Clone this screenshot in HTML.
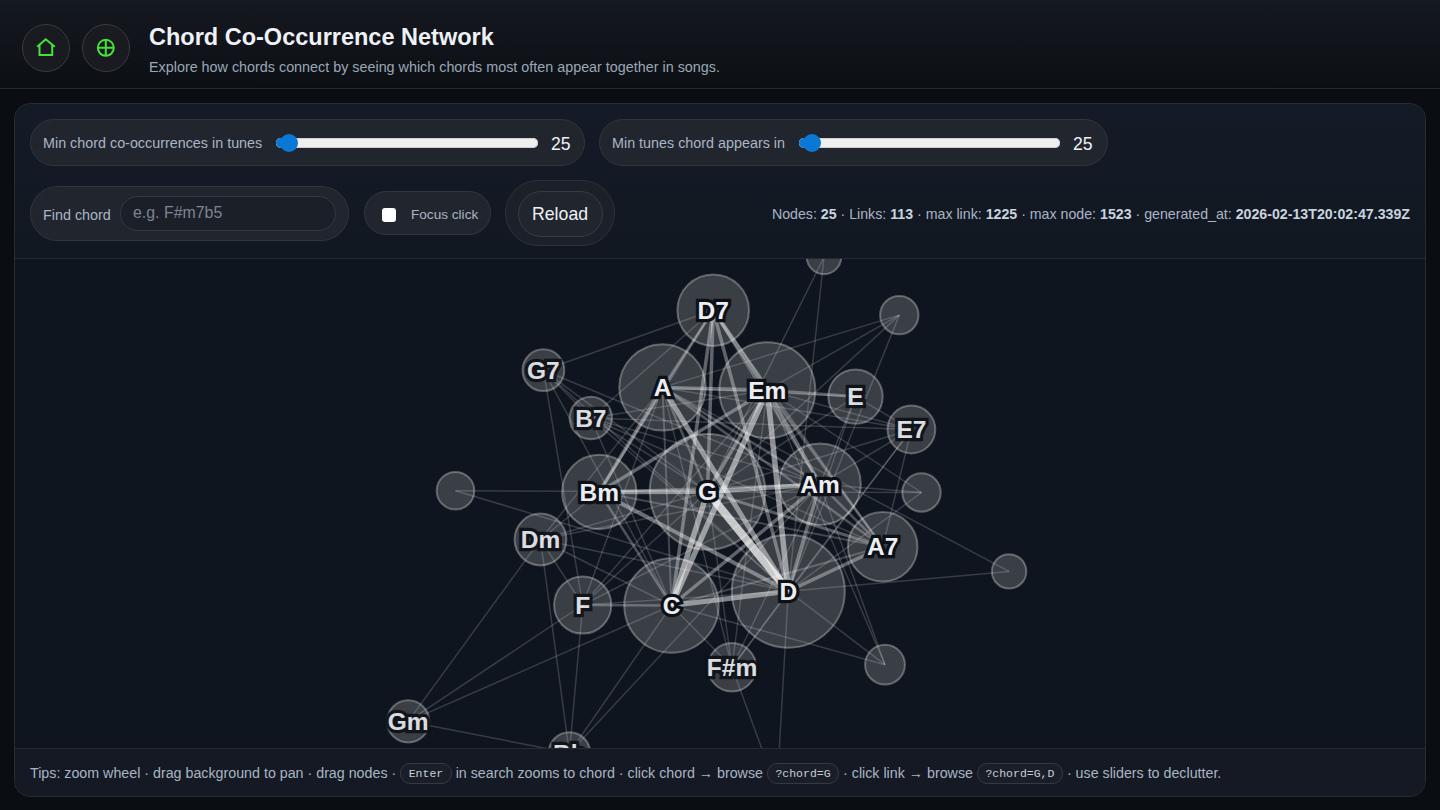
<!DOCTYPE html>
<html><head><meta charset="utf-8">
<style>
*{box-sizing:border-box;margin:0;padding:0}
html,body{width:1440px;height:810px;overflow:hidden;background:#0a0d12;font-family:"Liberation Sans",sans-serif}
.hdr{position:absolute;left:0;top:0;width:1440px;height:89px;background:linear-gradient(#151920,#0c0f14);border-bottom:1px solid #23272e}
.ib{position:absolute;top:24px;width:48px;height:48px;border-radius:50%;background:#191b21;border:1px solid #383b41}
.ib svg{position:absolute;left:-1px;top:-1px}
.title{position:absolute;left:149px;top:24px;font-size:23.5px;font-weight:bold;color:#eef1f6;white-space:nowrap}
.sub{position:absolute;left:149px;top:59px;font-size:14.35px;color:#9ba7b6;white-space:nowrap}
.panel{position:absolute;left:14px;top:103px;width:1412px;height:694px;border:1px solid #272c35;border-radius:16px;background:#131822;overflow:hidden}
.ctrl{position:absolute;left:0;top:0;width:1410px;height:154px;background:linear-gradient(#151b26,#121822)}
.graph{position:absolute;left:0;top:154px;width:1410px;height:491px;background:#0f151e;border-top:1px solid #262b33;border-bottom:1px solid #262b33;overflow:hidden}
.foot{position:absolute;left:0;top:645px;width:1410px;height:47px;background:#141923}
.pill{position:absolute;background:#21252e;border:1px solid #30353e;border-radius:24px}
.lbl{position:absolute;font-size:14.35px;color:#a9b5c4;white-space:nowrap;line-height:16px}
.track{position:absolute;height:10px;border-radius:5px;background:#efefef;box-shadow:inset 0 0 0 1px #cfcfcf}
.fill{position:absolute;height:10px;border-radius:5px 0 0 5px;background:#0b78d6}
.thumb{position:absolute;width:18px;height:18px;border-radius:50%;background:#0b78d6}
.val{position:absolute;font-size:17.6px;color:#eef1f5;white-space:nowrap;line-height:20px}
.inp{position:absolute;background:#1b1f28;border:1px solid #343943;border-radius:18px}
.ph{position:absolute;font-size:15.9px;color:#7d8590;white-space:nowrap;line-height:18px}
.cb{position:absolute;width:14px;height:14px;border-radius:3px;background:#fff}
.btn{position:absolute;background:#21252e;border:1px solid #363b44;border-radius:23px}
.stats{position:absolute;right:15px;top:102px;font-size:14.2px;color:#a9b5c4;white-space:nowrap;line-height:17px}
.stats b{color:#c8d3df}
.tips{position:absolute;left:15px;top:14px;font-size:14.25px;color:#a9b5c4;white-space:nowrap;line-height:21px}
.kbd{display:inline-block;font-family:"Liberation Mono",monospace;font-size:11.5px;line-height:19.5px;height:21.5px;color:#c5cfdb;background:#1a1e27;border:1px solid #343943;border-radius:10px;padding:0 7.5px;vertical-align:top;margin-top:-0.5px}
.gsvg{position:absolute;left:0;top:0}
.lbls text{font-family:"Liberation Sans",sans-serif;font-weight:bold;font-size:24.5px;fill:#eceef1;stroke:#0d1117;stroke-width:6.5px;paint-order:stroke;stroke-linejoin:miter;stroke-miterlimit:2;text-anchor:middle;dominant-baseline:central}
</style></head><body>
<div class="hdr">
  <div class="ib" style="left:22px">
    <svg width="48" height="48" viewBox="22 24 48 48"><path d="M37.2 46.8 L45.7 39.2 L54.8 46.8 M39.5 45.2 V55.1 H52.2 V45.2" fill="none" stroke="#46e23a" stroke-width="2" stroke-linejoin="miter"/></svg>
  </div>
  <div class="ib" style="left:82px">
    <svg width="48" height="48" viewBox="82 24 48 48"><circle cx="105.8" cy="47.8" r="8" fill="none" stroke="#46e23a" stroke-width="2"/><path d="M105.8 39.8 V55.8 M97.8 47.8 H113.8" stroke="#46e23a" stroke-width="2"/></svg>
  </div>
  <div class="title">Chord Co-Occurrence Network</div>
  <div class="sub">Explore how chords connect by seeing which chords most often appear together in songs.</div>
</div>
<div class="panel">
  <div class="ctrl">
    <div class="pill" style="left:15px;top:15px;width:555px;height:47px"></div>
    <div class="lbl" style="left:28px;top:31px">Min chord co-occurrences in tunes</div>
    <div class="track" style="left:261px;top:33.5px;width:262px"></div>
    <div class="fill" style="left:261px;top:33.5px;width:14px"></div>
    <div class="thumb" style="left:265px;top:29.5px"></div>
    <div class="val" style="left:536px;top:30px">25</div>

    <div class="pill" style="left:584px;top:15px;width:509px;height:47px"></div>
    <div class="lbl" style="left:597px;top:31px">Min tunes chord appears in</div>
    <div class="track" style="left:784px;top:33.5px;width:261px"></div>
    <div class="fill" style="left:784px;top:33.5px;width:14px"></div>
    <div class="thumb" style="left:788px;top:29.5px"></div>
    <div class="val" style="left:1058px;top:30px">25</div>

    <div class="pill" style="left:15px;top:82px;width:319px;height:55px;border-radius:28px"></div>
    <div class="lbl" style="left:28px;top:103px">Find chord</div>
    <div class="inp" style="left:105px;top:92px;width:216px;height:35px"></div>
    <div class="ph" style="left:118px;top:100px">e.g. F#m7b5</div>

    <div class="pill" style="left:349px;top:87px;width:127px;height:44px;border-radius:22px"></div>
    <div class="cb" style="left:366.5px;top:103.5px"></div>
    <div class="lbl" style="left:396px;top:102.5px;font-size:13.6px">Focus click</div>

    <div class="pill" style="left:490px;top:76px;width:110px;height:66px;border-radius:33px;background:#1c2029;border-color:#2c313a"></div>
    <div class="btn" style="left:503px;top:87px;width:85px;height:46px"></div>
    <div class="val" style="left:517px;top:100px;font-size:17.7px;color:#eef1f5">Reload</div>

    <div class="stats">Nodes: <b>25</b> · Links: <b>113</b> · max link: <b>1225</b> · max node: <b>1523</b> · generated_at: <b>2026-02-13T20:02:47.339Z</b></div>
  </div>
  <div class="graph"><svg class="gsvg" width="1410" height="489" viewBox="15 259 1410 489">
<g><line x1="543.4" y1="370.2" x2="713.2" y2="310.2" stroke="#fff" stroke-opacity="0.17" stroke-width="1.5"/><line x1="543.4" y1="370.2" x2="671.5" y2="605.5" stroke="#fff" stroke-opacity="0.17" stroke-width="1.5"/><line x1="543.4" y1="370.2" x2="788.3" y2="591.2" stroke="#fff" stroke-opacity="0.17" stroke-width="1.5"/><line x1="543.4" y1="370.2" x2="582.7" y2="605.0" stroke="#fff" stroke-opacity="0.17" stroke-width="1.5"/><line x1="543.4" y1="370.2" x2="590.8" y2="418.0" stroke="#fff" stroke-opacity="0.17" stroke-width="1.5"/><line x1="543.4" y1="370.2" x2="820" y2="484.2" stroke="#fff" stroke-opacity="0.17" stroke-width="1.5"/><line x1="543.4" y1="370.2" x2="707.5" y2="491.8" stroke="#fff" stroke-opacity="0.17" stroke-width="1.5"/><line x1="590.8" y1="418.0" x2="713.2" y2="310.2" stroke="#fff" stroke-opacity="0.17" stroke-width="1.5"/><line x1="590.8" y1="418.0" x2="767.3" y2="390.2" stroke="#fff" stroke-opacity="0.17" stroke-width="1.5"/><line x1="590.8" y1="418.0" x2="820" y2="484.2" stroke="#fff" stroke-opacity="0.17" stroke-width="1.5"/><line x1="590.8" y1="418.0" x2="882.7" y2="546.8" stroke="#fff" stroke-opacity="0.17" stroke-width="1.5"/><line x1="590.8" y1="418.0" x2="707.5" y2="491.8" stroke="#fff" stroke-opacity="0.17" stroke-width="1.5"/><line x1="590.8" y1="418.0" x2="671.5" y2="605.5" stroke="#fff" stroke-opacity="0.17" stroke-width="1.5"/><line x1="590.8" y1="418.0" x2="788.3" y2="591.2" stroke="#fff" stroke-opacity="0.17" stroke-width="1.5"/><line x1="590.8" y1="418.0" x2="911.4" y2="429.5" stroke="#fff" stroke-opacity="0.17" stroke-width="1.5"/><line x1="540.5" y1="539.5" x2="662.5" y2="387.4" stroke="#fff" stroke-opacity="0.17" stroke-width="1.5"/><line x1="540.5" y1="539.5" x2="599.3" y2="492.0" stroke="#fff" stroke-opacity="0.17" stroke-width="1.5"/><line x1="540.5" y1="539.5" x2="707.5" y2="491.8" stroke="#fff" stroke-opacity="0.17" stroke-width="1.5"/><line x1="540.5" y1="539.5" x2="820" y2="484.2" stroke="#fff" stroke-opacity="0.17" stroke-width="1.5"/><line x1="540.5" y1="539.5" x2="788.3" y2="591.2" stroke="#fff" stroke-opacity="0.17" stroke-width="1.5"/><line x1="540.5" y1="539.5" x2="671.5" y2="605.5" stroke="#fff" stroke-opacity="0.17" stroke-width="1.5"/><line x1="540.5" y1="539.5" x2="582.7" y2="605.0" stroke="#fff" stroke-opacity="0.17" stroke-width="1.5"/><line x1="540.5" y1="539.5" x2="569.4" y2="753.0" stroke="#fff" stroke-opacity="0.17" stroke-width="1.5"/><line x1="540.5" y1="539.5" x2="408.2" y2="721.4" stroke="#fff" stroke-opacity="0.17" stroke-width="1.5"/><line x1="582.7" y1="605.0" x2="662.5" y2="387.4" stroke="#fff" stroke-opacity="0.17" stroke-width="1.5"/><line x1="582.7" y1="605.0" x2="767.3" y2="390.2" stroke="#fff" stroke-opacity="0.17" stroke-width="1.5"/><line x1="582.7" y1="605.0" x2="707.5" y2="491.8" stroke="#fff" stroke-opacity="0.17" stroke-width="1.5"/><line x1="582.7" y1="605.0" x2="788.3" y2="591.2" stroke="#fff" stroke-opacity="0.17" stroke-width="1.5"/><line x1="582.7" y1="605.0" x2="408.2" y2="721.4" stroke="#fff" stroke-opacity="0.17" stroke-width="1.5"/><line x1="582.7" y1="605.0" x2="569.4" y2="753.0" stroke="#fff" stroke-opacity="0.17" stroke-width="1.5"/><line x1="582.7" y1="605.0" x2="820" y2="484.2" stroke="#fff" stroke-opacity="0.17" stroke-width="1.5"/><line x1="408.2" y1="721.4" x2="671.5" y2="605.5" stroke="#fff" stroke-opacity="0.17" stroke-width="1.5"/><line x1="408.2" y1="721.4" x2="569.4" y2="753.0" stroke="#fff" stroke-opacity="0.17" stroke-width="1.5"/><line x1="569.4" y1="753.0" x2="671.5" y2="605.5" stroke="#fff" stroke-opacity="0.17" stroke-width="1.5"/><line x1="569.4" y1="753.0" x2="820" y2="484.2" stroke="#fff" stroke-opacity="0.17" stroke-width="1.5"/><line x1="455.5" y1="490.7" x2="707.5" y2="491.8" stroke="#fff" stroke-opacity="0.17" stroke-width="1.5"/><line x1="455.5" y1="490.7" x2="788.3" y2="591.2" stroke="#fff" stroke-opacity="0.17" stroke-width="1.5"/><line x1="824" y1="257.0" x2="707.5" y2="491.8" stroke="#fff" stroke-opacity="0.17" stroke-width="1.5"/><line x1="824" y1="257.0" x2="788.3" y2="591.2" stroke="#fff" stroke-opacity="0.17" stroke-width="1.5"/><line x1="899.3" y1="315.1" x2="662.5" y2="387.4" stroke="#fff" stroke-opacity="0.17" stroke-width="1.5"/><line x1="899.3" y1="315.1" x2="767.3" y2="390.2" stroke="#fff" stroke-opacity="0.17" stroke-width="1.5"/><line x1="899.3" y1="315.1" x2="707.5" y2="491.8" stroke="#fff" stroke-opacity="0.17" stroke-width="1.5"/><line x1="899.3" y1="315.1" x2="788.3" y2="591.2" stroke="#fff" stroke-opacity="0.17" stroke-width="1.5"/><line x1="855.5" y1="396.6" x2="662.5" y2="387.4" stroke="#fff" stroke-opacity="0.17" stroke-width="1.5"/><line x1="855.5" y1="396.6" x2="820" y2="484.2" stroke="#fff" stroke-opacity="0.17" stroke-width="1.5"/><line x1="855.5" y1="396.6" x2="788.3" y2="591.2" stroke="#fff" stroke-opacity="0.17" stroke-width="1.5"/><line x1="855.5" y1="396.6" x2="707.5" y2="491.8" stroke="#fff" stroke-opacity="0.17" stroke-width="1.5"/><line x1="855.5" y1="396.6" x2="911.4" y2="429.5" stroke="#fff" stroke-opacity="0.17" stroke-width="1.5"/><line x1="911.4" y1="429.5" x2="662.5" y2="387.4" stroke="#fff" stroke-opacity="0.17" stroke-width="1.5"/><line x1="911.4" y1="429.5" x2="707.5" y2="491.8" stroke="#fff" stroke-opacity="0.17" stroke-width="1.5"/><line x1="911.4" y1="429.5" x2="820" y2="484.2" stroke="#fff" stroke-opacity="0.17" stroke-width="1.5"/><line x1="911.4" y1="429.5" x2="788.3" y2="591.2" stroke="#fff" stroke-opacity="0.17" stroke-width="1.5"/><line x1="911.4" y1="429.5" x2="882.7" y2="546.8" stroke="#fff" stroke-opacity="0.17" stroke-width="1.5"/><line x1="911.4" y1="429.5" x2="767.3" y2="390.2" stroke="#fff" stroke-opacity="0.17" stroke-width="1.5"/><line x1="921.5" y1="492.5" x2="707.5" y2="491.8" stroke="#fff" stroke-opacity="0.17" stroke-width="1.5"/><line x1="921.5" y1="492.5" x2="767.3" y2="390.2" stroke="#fff" stroke-opacity="0.17" stroke-width="1.5"/><line x1="921.5" y1="492.5" x2="820" y2="484.2" stroke="#fff" stroke-opacity="0.17" stroke-width="1.5"/><line x1="921.5" y1="492.5" x2="788.3" y2="591.2" stroke="#fff" stroke-opacity="0.17" stroke-width="1.5"/><line x1="1009.1" y1="571.4" x2="788.3" y2="591.2" stroke="#fff" stroke-opacity="0.17" stroke-width="1.5"/><line x1="1009.1" y1="571.4" x2="662.5" y2="387.4" stroke="#fff" stroke-opacity="0.17" stroke-width="1.5"/><line x1="885" y1="664.7" x2="671.5" y2="605.5" stroke="#fff" stroke-opacity="0.17" stroke-width="1.5"/><line x1="885" y1="664.7" x2="788.3" y2="591.2" stroke="#fff" stroke-opacity="0.17" stroke-width="1.5"/><line x1="885" y1="664.7" x2="820" y2="484.2" stroke="#fff" stroke-opacity="0.17" stroke-width="1.5"/><line x1="885" y1="664.7" x2="767.3" y2="390.2" stroke="#fff" stroke-opacity="0.17" stroke-width="1.5"/><line x1="732" y1="667.3" x2="662.5" y2="387.4" stroke="#fff" stroke-opacity="0.17" stroke-width="1.5"/><line x1="732" y1="667.3" x2="707.5" y2="491.8" stroke="#fff" stroke-opacity="0.17" stroke-width="1.5"/><line x1="732" y1="667.3" x2="767.3" y2="390.2" stroke="#fff" stroke-opacity="0.17" stroke-width="1.5"/><line x1="732" y1="667.3" x2="820" y2="484.2" stroke="#fff" stroke-opacity="0.17" stroke-width="1.5"/><line x1="732" y1="667.3" x2="788.3" y2="591.2" stroke="#fff" stroke-opacity="0.17" stroke-width="1.5"/><line x1="732" y1="667.3" x2="911.4" y2="429.5" stroke="#fff" stroke-opacity="0.17" stroke-width="1.5"/><line x1="732" y1="667.3" x2="777" y2="790.0" stroke="#fff" stroke-opacity="0.17" stroke-width="1.5"/><line x1="732" y1="667.3" x2="671.5" y2="605.5" stroke="#fff" stroke-opacity="0.17" stroke-width="1.5"/><line x1="777" y1="790.0" x2="788.3" y2="591.2" stroke="#fff" stroke-opacity="0.17" stroke-width="1.5"/><line x1="662.5" y1="387.4" x2="671.5" y2="605.5" stroke="#fff" stroke-opacity="0.21" stroke-width="2.0"/><line x1="713.2" y1="310.2" x2="882.7" y2="546.8" stroke="#fff" stroke-opacity="0.21" stroke-width="2.0"/><line x1="671.5" y1="605.5" x2="882.7" y2="546.8" stroke="#fff" stroke-opacity="0.21" stroke-width="2.0"/><line x1="599.3" y1="492.0" x2="882.7" y2="546.8" stroke="#fff" stroke-opacity="0.21" stroke-width="2.0"/><line x1="662.5" y1="387.4" x2="707.5" y2="491.8" stroke="#fff" stroke-opacity="0.26" stroke-width="2.5"/><line x1="582.7" y1="605.0" x2="671.5" y2="605.5" stroke="#fff" stroke-opacity="0.26" stroke-width="2.5"/><line x1="713.2" y1="310.2" x2="662.5" y2="387.4" stroke="#fff" stroke-opacity="0.26" stroke-width="2.5"/><line x1="713.2" y1="310.2" x2="599.3" y2="492.0" stroke="#fff" stroke-opacity="0.26" stroke-width="2.5"/><line x1="713.2" y1="310.2" x2="820" y2="484.2" stroke="#fff" stroke-opacity="0.26" stroke-width="2.5"/><line x1="671.5" y1="605.5" x2="599.3" y2="492.0" stroke="#fff" stroke-opacity="0.26" stroke-width="2.5"/><line x1="767.3" y1="390.2" x2="882.7" y2="546.8" stroke="#fff" stroke-opacity="0.26" stroke-width="2.5"/><line x1="662.5" y1="387.4" x2="820" y2="484.2" stroke="#fff" stroke-opacity="0.26" stroke-width="2.5"/><line x1="662.5" y1="387.4" x2="882.7" y2="546.8" stroke="#fff" stroke-opacity="0.26" stroke-width="2.5"/><line x1="820" y1="484.2" x2="599.3" y2="492.0" stroke="#fff" stroke-opacity="0.26" stroke-width="2.5"/><line x1="820" y1="484.2" x2="882.7" y2="546.8" stroke="#fff" stroke-opacity="0.26" stroke-width="2.5"/><line x1="855.5" y1="396.6" x2="767.3" y2="390.2" stroke="#fff" stroke-opacity="0.30" stroke-width="3.0"/><line x1="882.7" y1="546.8" x2="707.5" y2="491.8" stroke="#fff" stroke-opacity="0.30" stroke-width="3.0"/><line x1="707.5" y1="491.8" x2="767.3" y2="390.2" stroke="#fff" stroke-opacity="0.34" stroke-width="3.5"/><line x1="662.5" y1="387.4" x2="767.3" y2="390.2" stroke="#fff" stroke-opacity="0.34" stroke-width="3.5"/><line x1="713.2" y1="310.2" x2="707.5" y2="491.8" stroke="#fff" stroke-opacity="0.34" stroke-width="3.5"/><line x1="599.3" y1="492.0" x2="767.3" y2="390.2" stroke="#fff" stroke-opacity="0.34" stroke-width="3.5"/><line x1="767.3" y1="390.2" x2="820" y2="484.2" stroke="#fff" stroke-opacity="0.34" stroke-width="3.5"/><line x1="788.3" y1="591.2" x2="820" y2="484.2" stroke="#fff" stroke-opacity="0.34" stroke-width="3.5"/><line x1="671.5" y1="605.5" x2="820" y2="484.2" stroke="#fff" stroke-opacity="0.34" stroke-width="3.5"/><line x1="713.2" y1="310.2" x2="671.5" y2="605.5" stroke="#fff" stroke-opacity="0.34" stroke-width="3.5"/><line x1="713.2" y1="310.2" x2="788.3" y2="591.2" stroke="#fff" stroke-opacity="0.34" stroke-width="3.5"/><line x1="882.7" y1="546.8" x2="788.3" y2="591.2" stroke="#fff" stroke-opacity="0.34" stroke-width="3.5"/><line x1="662.5" y1="387.4" x2="599.3" y2="492.0" stroke="#fff" stroke-opacity="0.34" stroke-width="3.5"/><line x1="713.2" y1="310.2" x2="767.3" y2="390.2" stroke="#fff" stroke-opacity="0.38" stroke-width="4.0"/><line x1="599.3" y1="492.0" x2="788.3" y2="591.2" stroke="#fff" stroke-opacity="0.38" stroke-width="4.0"/><line x1="707.5" y1="491.8" x2="820" y2="484.2" stroke="#fff" stroke-opacity="0.43" stroke-width="4.5"/><line x1="599.3" y1="492.0" x2="707.5" y2="491.8" stroke="#fff" stroke-opacity="0.43" stroke-width="4.5"/><line x1="662.5" y1="387.4" x2="788.3" y2="591.2" stroke="#fff" stroke-opacity="0.47" stroke-width="5.0"/><line x1="671.5" y1="605.5" x2="788.3" y2="591.2" stroke="#fff" stroke-opacity="0.47" stroke-width="5.0"/><line x1="707.5" y1="491.8" x2="671.5" y2="605.5" stroke="#fff" stroke-opacity="0.51" stroke-width="5.5"/><line x1="767.3" y1="390.2" x2="788.3" y2="591.2" stroke="#fff" stroke-opacity="0.51" stroke-width="5.5"/><line x1="767.3" y1="390.2" x2="671.5" y2="605.5" stroke="#fff" stroke-opacity="0.51" stroke-width="5.5"/><line x1="707.5" y1="491.8" x2="788.3" y2="591.2" stroke="#fff" stroke-opacity="0.72" stroke-width="8.0"/></g>
<g fill="#fff" fill-opacity="0.18" stroke="#fff" stroke-opacity="0.30" stroke-width="2"><circle cx="713.2" cy="310.2" r="35.8"/><circle cx="543.4" cy="370.2" r="20.9"/><circle cx="662.5" cy="387.4" r="43.2"/><circle cx="767.3" cy="390.2" r="48.0"/><circle cx="855.5" cy="396.6" r="27.2"/><circle cx="590.8" cy="418.0" r="21.2"/><circle cx="911.4" cy="429.5" r="23.9"/><circle cx="599.3" cy="492.0" r="37.2"/><circle cx="707.5" cy="491.8" r="57.8"/><circle cx="820" cy="484.2" r="40.8"/><circle cx="540.5" cy="539.5" r="25.9"/><circle cx="882.7" cy="546.8" r="34.8"/><circle cx="582.7" cy="605.0" r="28.6"/><circle cx="671.5" cy="605.5" r="47.2"/><circle cx="788.3" cy="591.2" r="56.5"/><circle cx="732" cy="667.3" r="24.2"/><circle cx="408.2" cy="721.4" r="21.1"/><circle cx="569.4" cy="753.0" r="20.8"/><circle cx="824" cy="257.0" r="17.2"/><circle cx="899.3" cy="315.1" r="19.2"/><circle cx="455.5" cy="490.7" r="18.8"/><circle cx="921.5" cy="492.5" r="19.2"/><circle cx="1009.1" cy="571.4" r="17.2"/><circle cx="885" cy="664.7" r="19.9"/><circle cx="777" cy="790.0" r="19.2"/></g>
<g class="lbls"><text x="713.2" y="310.2" opacity="1.0">D7</text><text x="543.4" y="370.2" opacity="0.9">G7</text><text x="662.5" y="387.4" opacity="1.0">A</text><text x="767.3" y="390.2" opacity="1.0">Em</text><text x="855.5" y="396.6" opacity="0.9">E</text><text x="590.8" y="418.0" opacity="0.9">B7</text><text x="911.4" y="429.5" opacity="0.9">E7</text><text x="599.3" y="492.0" opacity="1.0">Bm</text><text x="707.5" y="491.8" opacity="1.0">G</text><text x="820" y="484.2" opacity="1.0">Am</text><text x="540.5" y="539.5" opacity="0.9">Dm</text><text x="882.7" y="546.8" opacity="1.0">A7</text><text x="582.7" y="605.0" opacity="0.9">F</text><text x="671.5" y="605.5" opacity="1.0">C</text><text x="788.3" y="591.2" opacity="1.0">D</text><text x="732" y="667.3" opacity="0.9">F#m</text><text x="408.2" y="721.4" opacity="0.9">Gm</text><text x="569.4" y="753.0" opacity="0.9">Bb</text></g>
</svg></div>
  <div class="foot">
    <div class="tips">Tips: zoom wheel · drag background to pan · drag nodes · <span class="kbd">Enter</span> in search zooms to chord · click chord → browse <span class="kbd">?chord=G</span> · click link → browse <span class="kbd">?chord=G,D</span> · use sliders to declutter.</div>
  </div>
</div>
</body></html>
